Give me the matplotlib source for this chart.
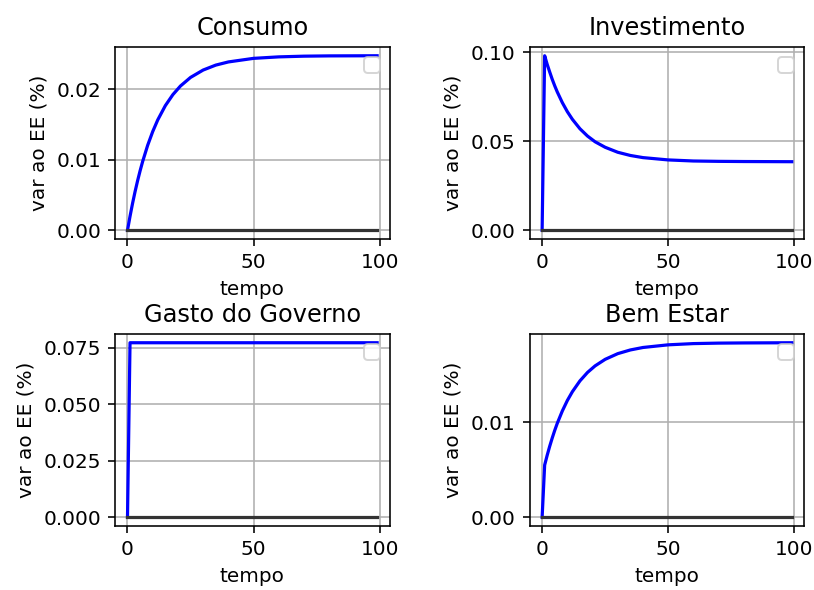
"""
Respostas ao impulso: consumo, investimento, gasto do governo e bem estar
"""
import matplotlib
matplotlib.use("Agg")
import matplotlib.pyplot as plt

tempo = [0, 1, 2, 3, 4, 5, 6, 8, 10, 12, 15, 18, 21, 25, 30, 35, 40, 50, 60, 70, 80, 99]

consumo = [0.0, 0.00198, 0.00381, 0.00549, 0.00703, 0.00845, 0.00976, 0.01207,
           0.01402, 0.01568, 0.01770, 0.01927, 0.02049, 0.02171, 0.02276, 0.02346,
           0.02391, 0.02442, 0.02463, 0.02473, 0.02477, 0.02479]
investimento = [0.0, 0.0980, 0.0932, 0.0889, 0.0848, 0.0811, 0.0777, 0.0717,
                0.0666, 0.0623, 0.0570, 0.0529, 0.0497, 0.0466, 0.0438, 0.0420,
                0.0408, 0.0395, 0.0389, 0.0387, 0.0386, 0.0385]
gasto = [0.0, 0.0772, 0.0772, 0.0772, 0.0772, 0.0772, 0.0772, 0.0772,
         0.0772, 0.0772, 0.0772, 0.0772, 0.0772, 0.0772, 0.0772, 0.0772,
         0.0772, 0.0772, 0.0772, 0.0772, 0.0772, 0.0772]
bem_estar = [0.0, 0.00550, 0.00653, 0.00748, 0.00835, 0.00916, 0.00990, 0.01120,
             0.01231, 0.01324, 0.01438, 0.01527, 0.01596, 0.01665, 0.01725, 0.01764,
             0.01790, 0.01818, 0.01831, 0.01836, 0.01838, 0.01840]
estado_estacionario = [0.0] * len(tempo)

titulos = ["Consumo", "Investimento", "Gasto do Governo", "Bem Estar"]
series = [consumo, investimento, gasto, bem_estar]
yticks = [[0.0, 0.01, 0.02], [0.0, 0.05, 0.10], [0.0, 0.025, 0.05, 0.075], [0.0, 0.01]]
xticks = [0, 50, 100]

fig, axes = plt.subplots(2, 2, figsize=(814 / 144, 590 / 144), dpi=144)
fig.subplots_adjust(left=0.1413, right=0.988, top=0.9203, bottom=0.1085,
                    wspace=0.51, hspace=0.495)

for ax, titulo, serie, yt in zip(axes.flat, titulos, series, yticks):
    ax.plot(tempo, serie, color="blue", lw=1.6)
    ax.plot(tempo, estado_estacionario, color="#333333", lw=1.6)
    ax.set_title(titulo)
    ax.set_xlabel("tempo")
    ax.set_ylabel("var ao EE (%)")
    ax.set_xticks(xticks)
    ax.set_yticks(yt)
    ax.grid(True)
    ax.legend(loc="upper right")  # legenda vazia, como no original

fig.savefig("out.png", dpi=144)
